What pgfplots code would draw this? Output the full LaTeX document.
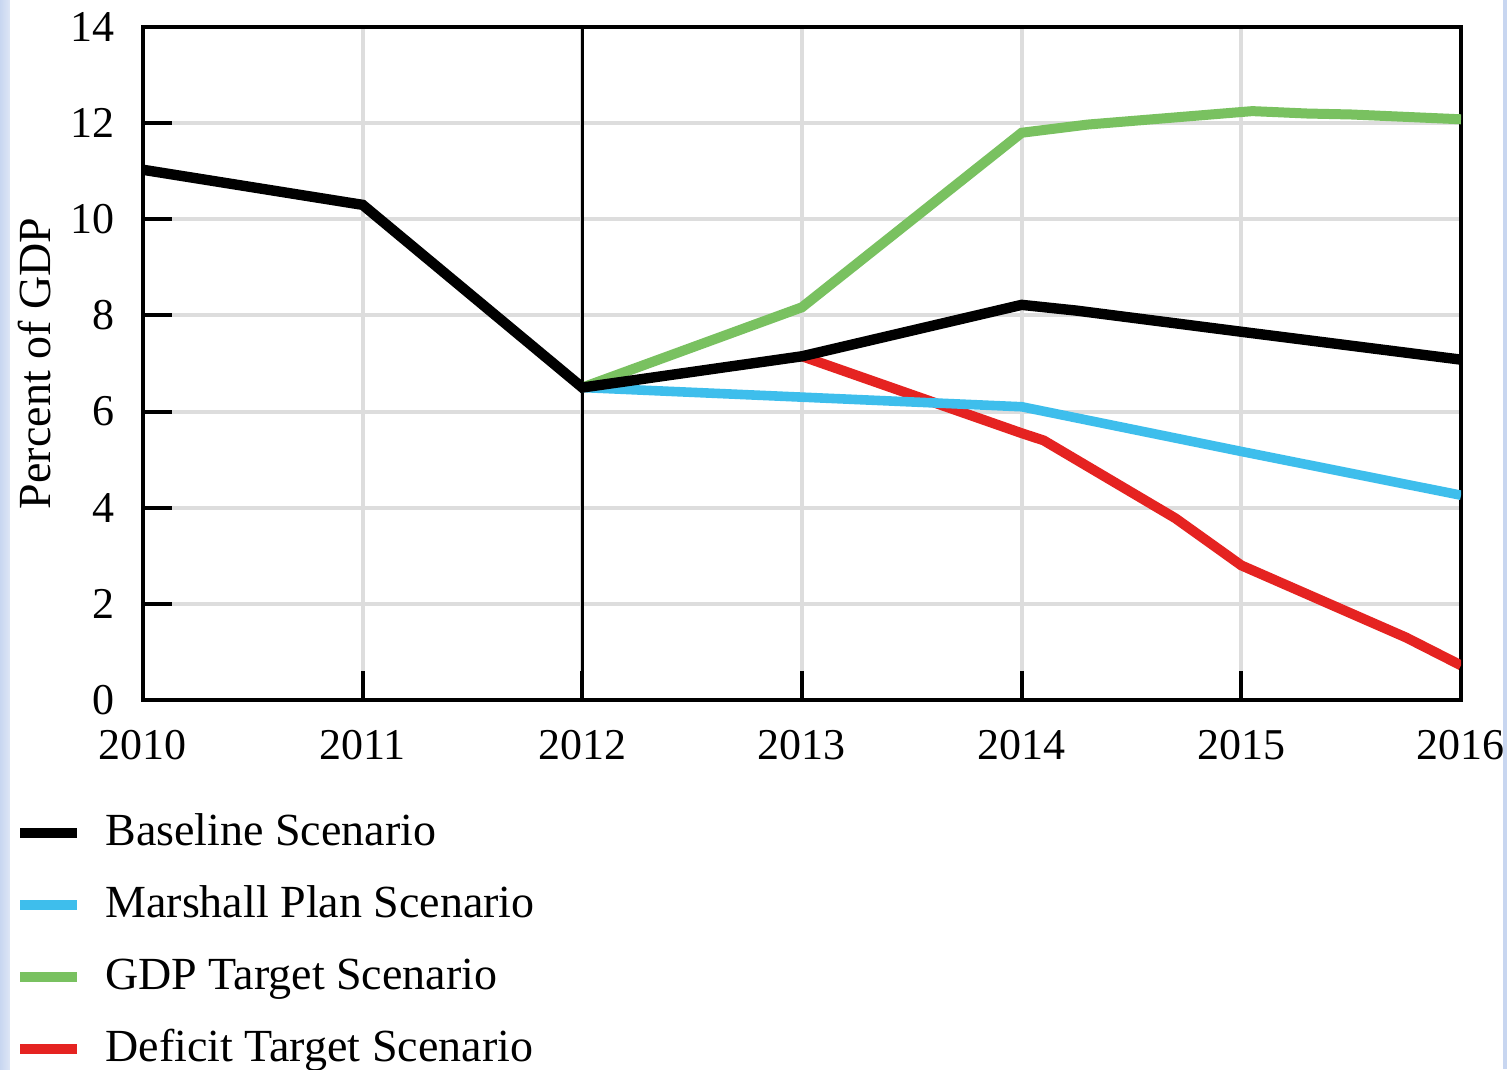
\documentclass[border=0pt]{standalone}
\usepackage{pgfplots}
\pgfplotsset{compat=1.18}
\usepackage{fontspec}
\setmainfont{Liberation Serif}
\definecolor{cBlue}{RGB}{62,190,236}
\definecolor{cGreen}{RGB}{121,193,96}
\definecolor{cRed}{RGB}{229,35,33}
\definecolor{cStrip}{RGB}{200,214,240}
\definecolor{cGrid}{RGB}{221,221,221}
\begin{document}
\begin{tikzpicture}
\useasboundingbox (-71.5pt,-184.5pt) rectangle (682pt,350pt);
\fill[white] (-71.5pt,-184.5pt) rectangle (682pt,350pt);
\fill[left color=cStrip, right color=cStrip!60] (-71.5pt,-184.5pt) rectangle (-66.5pt,350pt);
\fill[cStrip] (680pt,-184.5pt) rectangle (682pt,350pt);
\begin{axis}[
  scale only axis, width=659pt, height=336.5pt,
  xmin=2010, xmax=2016, ymin=0, ymax=14,
  xtick={2010,2011,...,2016}, ytick={0,2,...,14},
  /pgf/number format/assume math mode=true,
  /pgf/number format/1000 sep={},
  tick label style={font=\fontsize{22}{26}\selectfont, inner sep=0pt},
  xticklabel style={anchor=north, yshift=-15pt},
  yticklabel style={anchor=east, xshift=-14pt},
  tick align=inside, xtick pos=bottom, ytick pos=left,
  major tick length=14.5pt,
  tick style={black, line width=2pt},
  grid=major, grid style={cGrid, line width=2pt},
  axis line style={black, line width=2pt},
  ylabel={Percent of GDP},
  ylabel style={font=\fontsize{23}{27}\selectfont, at={(axis description cs:-0.082,0.5)}, anchor=center},
  legend cell align=left,
  legend style={at={(axis description cs:0,0)}, anchor=north west, xshift=-64pt, yshift=-55.5pt,
    draw=none, fill=none, inner sep=0pt, font=\fontsize{23}{27}\selectfont,
    row sep=14pt, column sep=11.5pt,
    nodes={inner sep=0pt, text height=17pt, text depth=5pt}},
  legend image code/.code={\draw[#1] (0pt,0pt) -- (28.5pt,0pt);},
]
\addlegendimage{black, line width=5pt}
\addlegendentry{Baseline Scenario}
\addlegendimage{cBlue, line width=5pt}
\addlegendentry{Marshall Plan Scenario}
\addlegendimage{cGreen, line width=5pt}
\addlegendentry{GDP Target Scenario}
\addlegendimage{cRed, line width=5pt}
\addlegendentry{Deficit Target Scenario}

\addplot[black, line width=1.5pt, forget plot] coordinates {(2012,0) (2012,14)};

\addplot[cRed, line width=5pt, forget plot] coordinates {
(2013,7.15) (2014,5.55) (2014.1,5.4) (2014.7,3.78) (2015,2.8) (2015.4,2.0) (2015.75,1.3) (2016,0.72)};
\addplot[cGreen, line width=5pt, forget plot] coordinates {
(2012,6.5) (2013,8.17) (2014,11.8) (2014.3,11.97) (2015.05,12.25) (2015.3,12.2) (2015.5,12.18) (2016,12.08)};
\addplot[cBlue, line width=4.8pt, forget plot] coordinates {
(2012,6.5) (2013,6.3) (2014,6.1) (2015,5.17) (2016,4.26)};
\addplot[black, line width=5.2pt, forget plot] coordinates {
(2010,11.03) (2011,10.3) (2012,6.5) (2013,7.15) (2014,8.22) (2014.25,8.1) (2015,7.66) (2016,7.08)};
\end{axis}
\end{tikzpicture}
\end{document}
